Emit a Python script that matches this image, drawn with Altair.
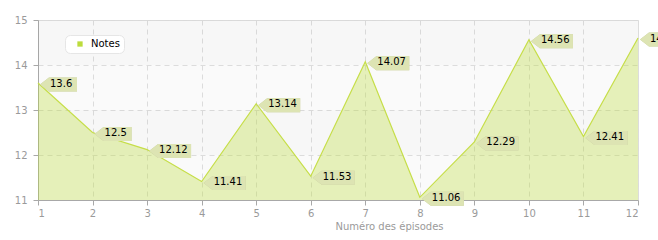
import altair as alt
import pandas as pd

# ---- data ----
episodes = list(range(1, 13))
notes = [13.6, 12.5, 12.12, 11.41, 13.14, 11.53, 14.07, 11.06, 12.29, 14.56, 12.41, 14.6]
labels = ["13.6", "12.5", "12.12", "11.41", "13.14", "11.53", "14.07", "11.06",
          "12.29", "14.56", "12.41", "14.6"]
series_name = "Notes"
x_title = "Numéro des épisodes"
x_ticks = list(range(1, 13))
y_ticks = [11, 12, 13, 14, 15]
band_low = [12, 14]
band_high = [13, 15]

df = pd.DataFrame({"episode": episodes, "note": notes, "label": labels,
                   "series": [series_name] * len(episodes)})
df["kind"] = ["long" if len(s) > 4 else "short" for s in labels]
bands = pd.DataFrame({"lo": band_low, "hi": band_high})

FONT = "DejaVu Sans"
xscale = alt.Scale(domain=[1, 12], nice=False, zero=False)
yscale = alt.Scale(domain=[11, 15], nice=False, zero=False)

xaxis = alt.Axis(values=x_ticks, format="d", titleX=351, titleY=29,
                 titleBaseline="alphabetic", titleAnchor="start", titleAlign="center")
yaxis = alt.Axis(values=y_ticks, format="d", labelPadding=6)


def X():
    return alt.X("episode:Q", scale=xscale, axis=xaxis, title=x_title)


def Y():
    return alt.Y("note:Q", scale=yscale, axis=yaxis, title=None)


box_short = "M0,0 L9,-7 L37,-7 L37,7 L9,7 Z"
box_long = "M0,0 L9,-7 L42,-7 L42,7 L9,7 Z"
sh_short = "M2,1.5 L11,-5.5 L39,-5.5 L39,8.5 L11,8.5 Z"
sh_long = "M2,1.5 L11,-5.5 L44,-5.5 L44,8.5 L11,8.5 Z"

band_layer = alt.Chart(bands).mark_rect(color="black", opacity=0.012).encode(
    y=alt.Y("lo:Q", scale=yscale, axis=yaxis, title=None),
    y2="hi:Q",
)

area = alt.Chart(df).mark_area(fillOpacity=0.34, interpolate="linear").encode(
    x=X(),
    y=Y(),
    y2=alt.datum(11),
    color=alt.Color("series:N", scale=alt.Scale(range=["#bcdc3c"]),
                    legend=alt.Legend(title=None, orient="none", legendX=27, legendY=15,
                                      fillColor="white", strokeColor="#e6e6e6",
                                      cornerRadius=5, padding=4, symbolType="square",
                                      symbolSize=28, symbolOpacity=1,
                                      symbolStrokeWidth=0, symbolOffset=6,
                                      labelOffset=6, labelFont=FONT, labelFontSize=10,
                                      labelColor="black")),
)

line = alt.Chart(df).mark_line(color="#c6de48", strokeWidth=1.2).encode(x=X(), y=Y())

shadow = alt.Chart(df).mark_point(filled=True, size=4, opacity=1, color="#c4ca9c").encode(
    x=X(), y=Y(),
    shape=alt.Shape("kind:N", scale=alt.Scale(domain=["short", "long"],
                                              range=[sh_short, sh_long]), legend=None),
)

box = alt.Chart(df).mark_point(filled=True, size=4, opacity=1, color="#dde4b3").encode(
    x=X(), y=Y(),
    shape=alt.Shape("kind:N", scale=alt.Scale(domain=["short", "long"],
                                              range=[box_short, box_long]), legend=None),
)

text = alt.Chart(df).mark_text(align="left", baseline="middle", dx=12, dy=0.5,
                               font=FONT, fontSize=10, color="black").encode(
    x=X(), y=Y(), text="label:N",
)

chart = alt.layer(band_layer, area, line, shadow, box, text).properties(
    width=600, height=180,
    background="white",
    autosize=alt.AutoSizeParams(type="none"),
    padding={"left": 38, "top": 20, "right": 20, "bottom": 40},
).configure_view(
    stroke="#dddddd", fill="#fafafa"
).configure_axis(
    grid=True, gridColor="#dcdcdc", gridDash=[5, 4],
    domainColor="#a8a8a8", tickColor="#a8a8a8", tickSize=5,
    labelColor="#9a9a9a", labelFont=FONT, labelFontSize=10,
    titleColor="#9a9a9a", titleFont=FONT, titleFontSize=10, titleFontWeight="normal",
).configure_axisX(labelPadding=3)

chart.save("out.html", embed_options={"renderer": "svg", "actions": False})
